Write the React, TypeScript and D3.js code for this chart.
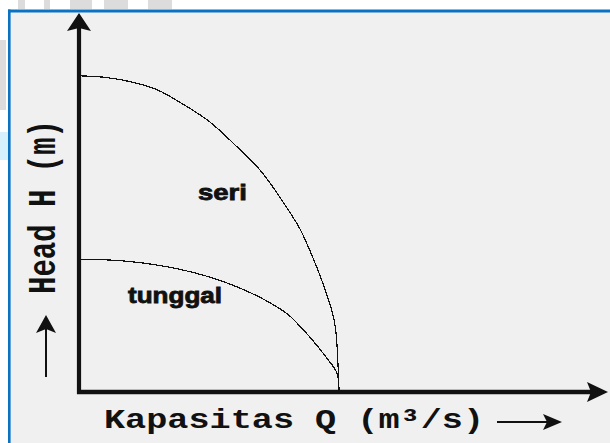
import React from "react";
import * as d3 from "d3";

// Pump head–capacity curves: two pumps in series vs. a single pump
const qSeri = [0, 1, 2, 3, 4, 5, 6, 7, 8, 8.5, 9, 9.5, 9.8, 9.9, 10];
const hSeri = [12.03, 11.97, 11.8, 11.5, 10.95, 10.3, 9.4, 8.4, 7.0, 6.2, 5.1, 3.8, 2.8, 2.1, 0];

const qTunggal = [0, 1, 2, 3, 4, 5, 6, 7, 8, 8.5, 9, 9.5, 9.92, 10];
const hTunggal = [5.05, 5.03, 4.96, 4.83, 4.64, 4.38, 4.03, 3.58, 2.98, 2.5, 1.95, 1.33, 0.72, 0];

const curveLabels = ["seri", "tunggal"];
const xTitle = "Kapasitas Q (m\u00b3/s)";
const yTitle = "Head H (m)";

const W = 610;
const H = 443;

export default function App() {
  const x = d3.scaleLinear().domain([0, 20]).range([79, 599]);
  const y = d3.scaleLinear().domain([0, 14]).range([392, 24]);

  const line = d3
    .line<[number, number]>()
    .x((d) => x(d[0]))
    .y((d) => y(d[1]))
    .curve(d3.curveCatmullRom.alpha(0.5));

  const seri = qSeri.map((q, i) => [q, hSeri[i]] as [number, number]);
  const tunggal = qTunggal.map((q, i) => [q, hTunggal[i]] as [number, number]);

  const x0 = x(0);
  const y0 = y(0);
  const yTip = y.range()[1] - 11;
  const xTip = x.range()[1] + 9;

  const axisFont = "'Liberation Mono', 'Courier New', monospace";
  const labelFont = "'Liberation Sans', Arial, sans-serif";

  return (
    <svg
      width={W}
      height={H}
      style={{ position: "absolute", left: 0, top: 0, background: "#fff" }}
    >
      {/* faint marks outside the frame */}
      <g fill="#dcdcdc">
        <rect x={18} y={0} width={7} height={9} />
        <rect x={44} y={0} width={6} height={9} />
        <rect x={70} y={0} width={22} height={9} />
        <rect x={104} y={0} width={24} height={9} />
        <rect x={148} y={0} width={24} height={9} />
        <rect x={0} y={40} width={6} height={70} />
      </g>
      <rect x={0} y={132} width={8} height={28} fill="#d6f1fb" />

      {/* frame */}
      <rect x={8} y={10} width={W - 8} height={H - 10} fill="#f0f0f0" />
      <rect x={8} y={9.5} width={W - 8} height={3} fill="#0a72c2" />
      <rect x={8} y={9.5} width={2.6} height={H - 9.5} fill="#0a72c2" />

      {/* axes */}
      <line x1={x0} y1={y0 + 2} x2={x0} y2={yTip + 14} stroke="#111" strokeWidth={4.2} />
      <line x1={x0 - 2} y1={y0} x2={xTip - 14} y2={y0} stroke="#111" strokeWidth={4.5} />
      <path
        d={`M${x0},${yTip} L${x0 + 12},${yTip + 18} L${x0},${yTip + 15} L${x0 - 12},${yTip + 18} Z`}
        fill="#111"
      />
      <path
        d={`M${xTip},${y0} L${xTip - 21},${y0 - 10} L${xTip - 17},${y0} L${xTip - 21},${y0 + 10} Z`}
        fill="#111"
      />

      {/* curves */}
      <path d={line(seri) ?? ""} fill="none" stroke="#111" strokeWidth={1.2} shapeRendering="crispEdges" />
      <path d={line(tunggal) ?? ""} fill="none" stroke="#111" strokeWidth={1.2} shapeRendering="crispEdges" />

      {/* curve labels */}
      <text
        x={198}
        y={200}
        fontFamily={labelFont}
        fontWeight="bold"
        fontSize={22}
        fill="#111"
        stroke="#111"
        strokeWidth={0.8}
        textLength={49}
        lengthAdjust="spacingAndGlyphs"
      >
        {curveLabels[0]}
      </text>
      <text
        x={128}
        y={303}
        fontFamily={labelFont}
        fontWeight="bold"
        fontSize={22}
        fill="#111"
        stroke="#111"
        strokeWidth={0.8}
        textLength={94}
        lengthAdjust="spacingAndGlyphs"
      >
        {curveLabels[1]}
      </text>

      {/* x title with arrow */}
      <text
        x={104}
        y={428}
        fontFamily={axisFont}
        fontWeight="bold"
        fontSize={28}
        fill="#111"
        textLength={380}
        lengthAdjust="spacingAndGlyphs"
      >
        {xTitle}
      </text>
      <line x1={497} y1={422} x2={548} y2={422} stroke="#111" strokeWidth={2} />
      <path d="M562,422 L543,414 L547,422 L543,430 Z" fill="#111" />

      {/* y title with arrow */}
      <text
        transform="translate(55,294) rotate(-90)"
        fontFamily={axisFont}
        fontWeight="bold"
        fontSize={38}
        fill="#111"
        textLength={174}
        lengthAdjust="spacingAndGlyphs"
      >
        {yTitle}
      </text>
      <line x1={46} y1={377} x2={46} y2={328} stroke="#111" strokeWidth={2} />
      <path d="M46,315 L56,333 L46,329 L36,333 Z" fill="#111" />
    </svg>
  );
}
